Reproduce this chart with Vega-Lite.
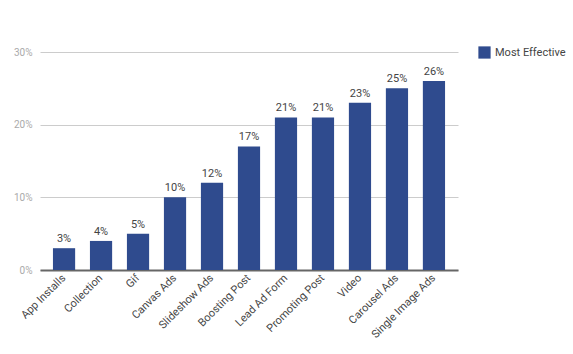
{
  "$schema": "https://vega.github.io/schema/vega-lite/v6.json",
  "width": 418,
  "height": 218,
  "autosize": "none",
  "padding": {"left": 40, "top": 52, "right": 115, "bottom": 84},
  "background": "white",
  "config": {"view": {"stroke": null}, "font": "Roboto"},
  "data": {"values": [
    {"type": "App Installs", "value": 0.03, "series": "Most Effective"},
    {"type": "Collection", "value": 0.04, "series": "Most Effective"},
    {"type": "Gif", "value": 0.05, "series": "Most Effective"},
    {"type": "Canvas Ads", "value": 0.10, "series": "Most Effective"},
    {"type": "Slideshow Ads", "value": 0.12, "series": "Most Effective"},
    {"type": "Boosting Post", "value": 0.17, "series": "Most Effective"},
    {"type": "Lead Ad Form", "value": 0.21, "series": "Most Effective"},
    {"type": "Promoting Post", "value": 0.21, "series": "Most Effective"},
    {"type": "Video", "value": 0.23, "series": "Most Effective"},
    {"type": "Carousel Ads", "value": 0.25, "series": "Most Effective"},
    {"type": "Single Image Ads", "value": 0.26, "series": "Most Effective"}
  ]},
  "encoding": {
    "x": {"field": "type", "type": "nominal", "sort": null,
      "scale": {"paddingInner": 0.4, "paddingOuter": 0.35},
      "axis": {"title": null, "labelAngle": -45, "labelAlign": "right", "labelBaseline": "middle", "labelFontSize": 11, "labelColor": "#444", "ticks": false, "domainColor": "#666", "domainWidth": 2, "labelPadding": 6}},
    "y": {"field": "value", "type": "quantitative",
      "scale": {"domain": [0, 0.3]},
      "axis": {"title": null, "format": ".0%", "values": [0, 0.1, 0.2, 0.3], "labelColor": "#aaa", "labelFontSize": 10, "ticks": false, "domain": false, "gridColor": "#ccc", "labelPadding": 8}}
  },
  "layer": [
    {"mark": {"type": "bar", "color": "#2f4b8e"},
     "encoding": {"color": {"field": "series", "type": "nominal", "scale": {"range": ["#2f4b8e"]},
       "legend": {"title": null, "orient": "none", "legendX": 438, "legendY": -6, "symbolType": "square", "symbolSize": 150, "labelFontSize": 11, "labelColor": "#444", "symbolStrokeWidth": 0}}}},
    {"mark": {"type": "text", "dy": -9, "fontSize": 11, "color": "#444", "fontWeight": "normal"},
     "encoding": {"text": {"field": "value", "type": "quantitative", "format": ".0%"}}}
  ]
}
